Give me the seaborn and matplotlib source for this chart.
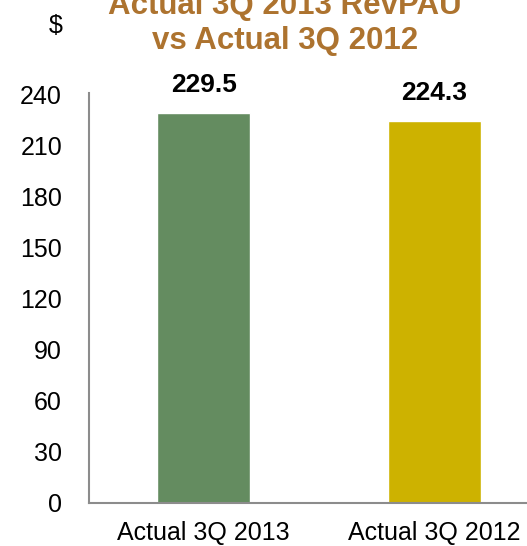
import matplotlib
matplotlib.use("Agg")
import matplotlib.pyplot as plt
import seaborn as sns
import pandas as pd

categories = ["Actual 3Q 2013", "Actual 3Q 2012"]
values = [229.5, 224.3]
bar_colors = ["#648C60", "#CDB200"]
y_ticks = [0, 30, 60, 90, 120, 150, 180, 210, 240]
title_lines = ["Actual 3Q 2013 RevPAU", "vs Actual 3Q 2012"]

sns.set_theme(style="white")
plt.rcParams["font.family"] = ["Liberation Sans", "DejaVu Sans"]

df = pd.DataFrame({"period": categories, "revpau": values})

W, H = 527, 546
fig = plt.figure(figsize=(W / 100, H / 100), dpi=100)
left, right_px, top_px, bottom_px = 88.5, 549.5, 93, 503
ax = fig.add_axes([left / W, 1 - bottom_px / H, (right_px - left) / W, (bottom_px - top_px) / H])

sns.barplot(data=df, x="period", y="revpau", hue="period", palette=bar_colors,
            width=0.405, legend=False, ax=ax, saturation=1)

ax.set_xlim(-0.5, 1.5)
ax.set_ylim(0, 241)
ax.set_yticks(y_ticks)
ax.set_yticklabels([str(t) for t in y_ticks], fontsize=18, color="black")
ax.tick_params(axis="x", labelsize=18, colors="black", pad=13, length=0)
ax.tick_params(axis="y", pad=19, length=0)
ax.set_xlabel("")
ax.set_ylabel("")

for s in ["top", "right"]:
    ax.spines[s].set_visible(False)
for s in ["left", "bottom"]:
    ax.spines[s].set_color("#8C8C8C")
    ax.spines[s].set_linewidth(1.5)

for container in ax.containers:
    ax.bar_label(container, fmt="%.1f", padding=11.5, fontsize=19,
                 fontweight="bold", color="black")

for line, base_y in zip(title_lines, [14, 49]):
    fig.text(285 / W, 1 - base_y / H, line, ha="center", va="baseline",
             fontsize=22.5, fontweight="bold", color="#AD732F")
fig.text(56 / W, 1 - 26 / H, "$", ha="center", va="center", fontsize=18,
         color="black")

fig.savefig("out.png", dpi=100)
